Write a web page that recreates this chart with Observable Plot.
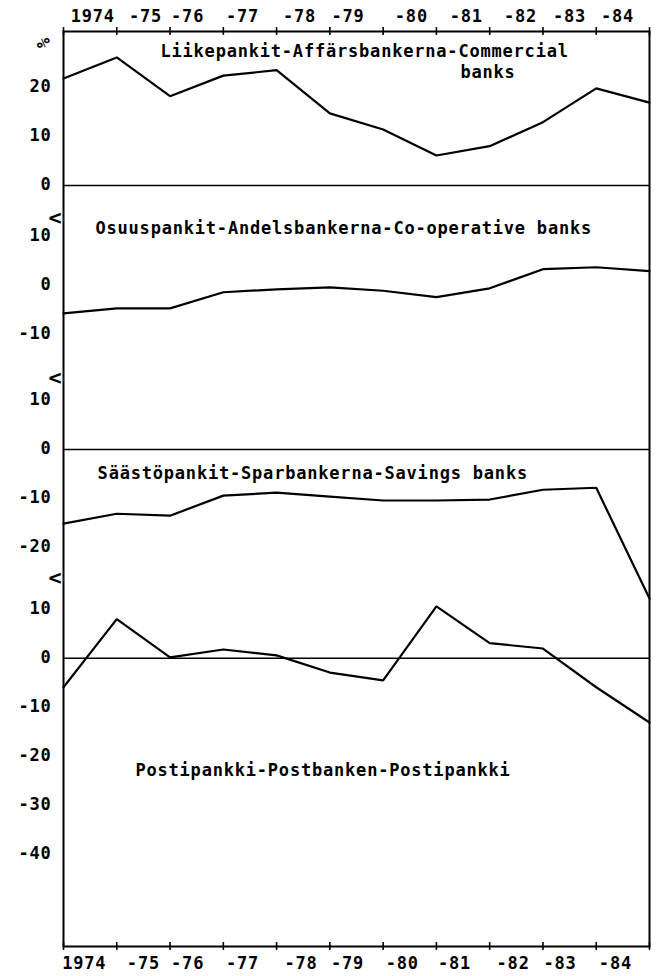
<!DOCTYPE html>
<html><head><meta charset="utf-8">
<script src="https://cdn.jsdelivr.net/npm/d3@7"></script>
<script src="https://cdn.jsdelivr.net/npm/@observablehq/plot@0.6"></script>
<style>body{margin:0;background:#fff}</style>
</head><body><div id="chart"></div>
<script>
// x positions: year boundaries, end-1973 .. end-1984
const points = [0, 1, 2, 3, 4, 5, 6, 7, 8, 9, 10, 11];
// % change
const commercial  = [21.8, 26.1, 18.2, 22.4, 23.5, 14.7, 11.4, 6.1, 8.0, 12.9, 19.8, 16.9];
const cooperative = [-5.7, -4.7, -4.7, -1.4, -0.8, -0.4, -1.1, -2.4, -0.6, 3.3, 3.7, 2.9];
const savings     = [-15.1, -13.1, -13.5, -9.4, -8.8, -9.6, -10.4, -10.4, -10.2, -8.2, -7.8, -30.4];
const postbank    = [-5.9, 8.0, 0.2, 1.8, 0.6, -2.9, -4.5, 10.6, 3.1, 2.0, -5.9, -13.1];
const series = [commercial, cooperative, savings, postbank];

// stacked panels: each panel's zero sits at this offset on the shared y scale
const panelOffset = [0, -20.4, -53.9, -96.5];
const yDomain = [-155.3, 31.4];

const yearLabels = ["1974", "-75", "-76", "-77", "-78", "-79", "-80", "-81", "-82", "-83", "-84"];
const topLabelPos = [0.55, 1.54, 2.33, 3.36, 4.43, 5.34, 6.53, 7.56, 8.58, 9.5, 10.4];
const bottomLabelPos = [0.39, 1.5, 2.33, 3.36, 4.46, 5.33, 6.36, 7.34, 8.44, 9.32, 10.36];

const panelTicks = [[20, 10, 0], [10, 0, -10], [10, 0, -10, -20], [10, 0, -10, -20, -30, -40]];
const zeroLinePanels = [0, 2, 3];
const breakPanels = [1, 2, 3];
const breakValues = [13.7, 14.7, 16.5];

const titleText = ["Liikepankit-Affärsbankerna-Commercial", "banks",
  "Osuuspankit-Andelsbankerna-Co-operative banks",
  "Säästöpankit-Sparbankerna-Savings banks",
  "Postipankki-Postbanken-Postipankki"];
const titlePanel = [0, 0, 1, 2, 3];
const titleX = [1.82, 7.45, 0.6, 0.64, 1.35];
const titleValue = [27.3, 23.1, 11.6, -4.9, -22.9];

// build tables
const lineData = series.flatMap((vals, p) => vals.map((v, i) => ({panel: p, x: points[i], y: v + panelOffset[p]})));
const tickData = panelTicks.flatMap((t, p) => t.map(v => ({label: String(v), y: v + panelOffset[p]})));
const zeroData = zeroLinePanels.map(p => panelOffset[p]);
const breakData = breakPanels.map((p, k) => breakValues[k] + panelOffset[p]);
const titleData = titleText.map((t, k) => ({text: t, x: titleX[k], y: titleValue[k] + panelOffset[titlePanel[k]]}));
const topLabels = yearLabels.map((t, k) => ({text: t, x: topLabelPos[k]}));
const bottomLabels = yearLabels.map((t, k) => ({text: t, x: bottomLabelPos[k]}));

const font = {fontFamily: "DejaVu Sans Mono", fontWeight: "bold", fontSize: 17};
const tickHalf = 0.8;

const chart = Plot.plot({
  width: 656,
  height: 976,
  marginTop: 31,
  marginBottom: 30,
  marginLeft: 63,
  marginRight: 7,
  style: {background: "#fff", color: "#000", letterSpacing: "0.8px"},
  x: {domain: [0, 11], axis: null},
  y: {domain: yDomain, axis: null},
  marks: [
    Plot.frame({stroke: "#000", strokeWidth: 2}),
    Plot.ruleY(zeroData, {y: d => d, stroke: "#000", strokeWidth: 1.5}),
    Plot.line(lineData, {x: "x", y: "y", z: "panel", stroke: "#000", strokeWidth: 2.2, strokeLinejoin: "miter"}),
    // top & bottom axis tick marks (crossing the frame)
    Plot.ruleX(points, {x: d => d, y1: yDomain[1] + tickHalf, y2: yDomain[1] - tickHalf, stroke: "#000", strokeWidth: 1.6}),
    Plot.ruleX(points, {x: d => d, y1: yDomain[0] + tickHalf, y2: yDomain[0] - tickHalf, stroke: "#000", strokeWidth: 1.6}),
    Plot.text(topLabels, {x: "x", y: () => yDomain[1], text: "text", dy: -15, ...font}),
    Plot.text(bottomLabels, {x: "x", y: () => yDomain[0], text: "text", dy: 17, ...font}),
    // left value labels
    Plot.text(tickData, {x: () => 0, y: "y", text: "label", textAnchor: "end", dx: -12, dy: -1, ...font}),
    Plot.text(["%"], {x: () => 0, y: () => 29, text: d => d, dx: -21, rotate: 90, ...font, fontSize: 17}),
    Plot.text(breakData, {x: () => 0, y: d => d, text: () => "<", textAnchor: "end", dx: -1, ...font, fontSize: 22})
    ,
    Plot.text(titleData, {x: "x", y: "y", text: "text", textAnchor: "start", ...font})
  ]
});
document.getElementById("chart").appendChild(chart);
</script>
</body></html>
